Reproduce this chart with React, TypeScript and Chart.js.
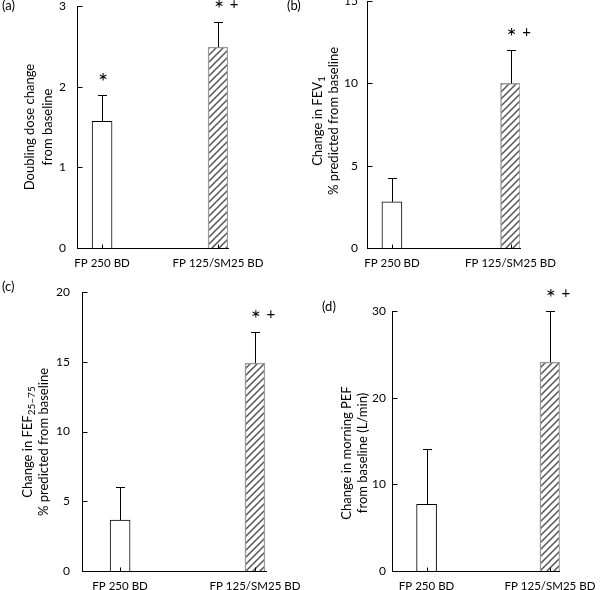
import { useEffect, useRef } from "react";
import { Chart, registerables } from "chart.js";

Chart.register(...registerables);

// ---------- data ----------
const GROUPS = ["FP 250 BD", "FP 125/SM25 BD"];

const DOUBLING_DOSE_MEAN = [1.57, 2.49];
const DOUBLING_DOSE_SEM = [0.33, 0.31];
const DOUBLING_DOSE_TICKS = [0, 1, 2, 3];
const DOUBLING_DOSE_MARKS = [["*"], ["*", "+"]];

const FEV1_MEAN = [2.8, 10.0];
const FEV1_SEM = [1.45, 2.0];
const FEV1_TICKS = [0, 5, 10, 15];
const FEV1_MARKS = [[], ["*", "+"]];

const FEF_MEAN = [3.65, 14.9];
const FEF_SEM = [2.4, 2.25];
const FEF_TICKS = [0, 5, 10, 15, 20];
const FEF_MARKS = [[], ["*", "+"]];

const PEF_MEAN = [7.7, 24.1];
const PEF_SEM = [6.35, 5.9];
const PEF_TICKS = [0, 10, 20, 30];
const PEF_MARKS = [[], ["*", "+"]];

type Seg = { t: string; sub?: boolean };
const TITLE_A: Seg[][] = [[{ t: "Doubling dose change" }], [{ t: "from baseline" }]];
const TITLE_B: Seg[][] = [
  [{ t: "Change in FEV" }, { t: "1", sub: true }],
  [{ t: "% predicted from baseline" }],
];
const TITLE_C: Seg[][] = [
  [{ t: "Change in FEF" }, { t: "25–75", sub: true }],
  [{ t: "% predicted from baseline" }],
];
const TITLE_D: Seg[][] = [[{ t: "Change in morning PEF" }], [{ t: "from baseline (L/min)" }]];

// ---------- layout ----------
const W = 606;
const H = 590;
const OFF = 30;
const CH = H + 50;
const YW = 50;
const XH = 30;
const FONT = "Lato, 'Open Sans', sans-serif";
const FS = 13;
const TICK_FS = 12;
const XLAB_FS = 11.5;

type PanelCfg = {
  tag: string;
  means: number[];
  sems: number[];
  ticks: number[];
  marks: string[][];
  title: Seg[][];
  left: number;
  top: number;
  bottom: number;
  right: number;
  xpos: number[];
  tickPad: number;
  titleX: [number, number];
  titleY: number;
  tagX: number;
  tagY: number;
};

const PANELS: PanelCfg[] = [
  {
    tag: "(a)", means: DOUBLING_DOSE_MEAN, sems: DOUBLING_DOSE_SEM, ticks: DOUBLING_DOSE_TICKS,
    marks: DOUBLING_DOSE_MARKS, title: TITLE_A,
    left: 77, top: 6, bottom: 248, right: 228, xpos: [1.66, 9.34], tickPad: 11,
    titleX: [30, 48], titleY: 127, tagX: 2, tagY: 6,
  },
  {
    tag: "(b)", means: FEV1_MEAN, sems: FEV1_SEM, ticks: FEV1_TICKS,
    marks: FEV1_MARKS, title: TITLE_B,
    left: 367, top: 1, bottom: 248, right: 520, xpos: [1.63, 9.38], tickPad: 9,
    titleX: [318, 334], titleY: 121, tagX: 287, tagY: 6,
  },
  {
    tag: "(c)", means: FEF_MEAN, sems: FEF_SEM, ticks: FEF_TICKS,
    marks: FEF_MARKS, title: TITLE_C,
    left: 82, top: 292, bottom: 571, right: 266, xpos: [2.07, 9.4], tickPad: 12,
    titleX: [28, 44], titleY: 442, tagX: 2, tagY: 287,
  },
  {
    tag: "(d)", means: PEF_MEAN, sems: PEF_SEM, ticks: PEF_TICKS,
    marks: PEF_MARKS, title: TITLE_D,
    left: 392, top: 311, bottom: 571, right: 562, xpos: [2.06, 9.41], tickPad: 6,
    titleX: [347, 363], titleY: 453, tagX: 322, tagY: 307,
  },
];

function makeHatch(): CanvasPattern | string {
  const c = document.createElement("canvas");
  const s = 7;
  c.width = s;
  c.height = s;
  const g = c.getContext("2d");
  if (!g) return "#888";
  g.fillStyle = "#ffffff";
  g.fillRect(0, 0, s, s);
  g.strokeStyle = "#555555";
  g.lineWidth = 1.5;
  g.beginPath();
  g.moveTo(-1, s + 1);
  g.lineTo(s + 1, -1);
  g.moveTo(-1, 1);
  g.lineTo(1, -1);
  g.moveTo(s - 1, s + 1);
  g.lineTo(s + 1, s - 1);
  g.stroke();
  const p = g.createPattern(c, "repeat");
  return p || "#888";
}

function drawRich(ctx: CanvasRenderingContext2D, segs: Seg[], x: number, y: number) {
  const main = `${FS}px ${FONT}`;
  const sub = `10px ${FONT}`;
  ctx.save();
  ctx.translate(x, y);
  ctx.rotate(-Math.PI / 2);
  ctx.textBaseline = "middle";
  ctx.textAlign = "left";
  let total = 0;
  const widths = segs.map((s) => {
    ctx.font = s.sub ? sub : main;
    const w = ctx.measureText(s.t).width;
    total += w;
    return w;
  });
  let cx = -total / 2;
  segs.forEach((s, i) => {
    ctx.font = s.sub ? sub : main;
    ctx.fillText(s.t, cx, s.sub ? 4 : 0);
    cx += widths[i];
  });
  ctx.restore();
}

function drawCentered(ctx: CanvasRenderingContext2D, text: string, x: number, y: number, font: string) {
  ctx.font = font;
  ctx.textAlign = "center";
  ctx.textBaseline = "alphabetic";
  const m = ctx.measureText(text);
  const base = y - (m.actualBoundingBoxDescent - m.actualBoundingBoxAscent) / 2;
  ctx.fillText(text, x, base);
}

function Panel({ cfg }: { cfg: PanelCfg }) {
  const ref = useRef<HTMLCanvasElement | null>(null);

  useEffect(() => {
    const canvas = ref.current;
    if (!canvas) return;
    const hatch = makeHatch();

    const overlay = {
      id: "overlay" + cfg.tag,
      afterDatasetsDraw(chart: any) {
        const ctx: CanvasRenderingContext2D = chart.ctx;
        const xs = chart.scales.x;
        const ys = chart.scales.y;
        const area = chart.chartArea;
        ctx.save();
        ctx.strokeStyle = "#000";
        ctx.lineWidth = 1;
        // inward y ticks
        ctx.beginPath();
        const ax = Math.round(area.left) + 0.5;
        cfg.ticks.forEach((t) => {
          const py = Math.round(ys.getPixelForValue(t)) + 0.5;
          ctx.moveTo(ax, py);
          ctx.lineTo(ax + 5, py);
        });
        // inward x ticks at the bars
        const by = Math.round(area.bottom) + 0.5;
        cfg.xpos.forEach((xp) => {
          const px = Math.round(xs.getPixelForValue(xp)) + 0.5;
          ctx.moveTo(px, by);
          ctx.lineTo(px, by - 4);
        });
        ctx.stroke();
        // error bars
        ctx.beginPath();
        cfg.means.forEach((m, i) => {
          const px = Math.round(xs.getPixelForValue(cfg.xpos[i])) + 0.5;
          const y0 = ys.getPixelForValue(m);
          const y1 = Math.round(ys.getPixelForValue(m + cfg.sems[i])) + 0.5;
          ctx.moveTo(px, y0);
          ctx.lineTo(px, y1);
          ctx.moveTo(px - 4.5, y1);
          ctx.lineTo(px + 4.5, y1);
        });
        ctx.stroke();
        // significance marks
        ctx.fillStyle = "#000";
        cfg.marks.forEach((mk, i) => {
          const px = xs.getPixelForValue(cfg.xpos[i]);
          const py = ys.getPixelForValue(cfg.means[i] + cfg.sems[i]) - 18;
          mk.forEach((s, j) => {
            drawCentered(ctx, s, px + 1 + j * 15, py, s === "*" ? `24px ${FONT}` : `15px ${FONT}`);
          });
        });
        // y-axis title
        cfg.title.forEach((line, i) => {
          drawRich(ctx, line, cfg.titleX[i], cfg.titleY + OFF);
        });
        // panel tag
        ctx.font = `${FS}px ${FONT}`;
        ctx.textAlign = "left";
        ctx.textBaseline = "middle";
        ctx.fillText(cfg.tag, cfg.tagX, cfg.tagY + OFF);
        ctx.restore();
      },
    };

    const chart = new Chart(canvas, {
      type: "bar",
      data: {
        datasets: [
          {
            data: cfg.means.map((m, i) => ({ x: cfg.xpos[i], y: m })),
            backgroundColor: ["#ffffff", hatch as any],
            borderColor: ["#000000", "#9a9a9a"],
            borderWidth: [1, 1.5],
            barThickness: 20,
          },
        ],
      },
      options: {
        animation: false,
        responsive: false,
        devicePixelRatio: 1,
        events: [],
        layout: {
          padding: {
            left: cfg.left - YW,
            top: cfg.top + OFF,
            right: W - cfg.right,
            bottom: CH - (cfg.bottom + OFF) - XH,
          },
        },
        plugins: {
          legend: { display: false },
          tooltip: { enabled: false },
          title: { display: false },
        },
        scales: {
          x: {
            type: "linear",
            min: 0,
            max: 10,
            offset: false,
            grid: { display: false, drawTicks: false },
            border: { display: true, color: "#000", width: 1 },
            afterBuildTicks: (scale: any) => {
              scale.ticks = cfg.xpos.map((v) => ({ value: v }));
            },
            afterFit: (scale: any) => {
              scale.height = XH;
            },
            ticks: {
              autoSkip: false,
              maxRotation: 0,
              padding: 8,
              color: "#000",
              font: { family: FONT, size: XLAB_FS },
              callback: (_v: any, i: number) => GROUPS[i],
            },
          },
          y: {
            type: "linear",
            min: cfg.ticks[0],
            max: cfg.ticks[cfg.ticks.length - 1],
            grid: { display: false, drawTicks: false },
            border: { display: true, color: "#000", width: 1 },
            afterBuildTicks: (scale: any) => {
              scale.ticks = cfg.ticks.map((v) => ({ value: v }));
            },
            afterFit: (scale: any) => {
              scale.width = YW;
            },
            ticks: {
              padding: cfg.tickPad,
              color: "#000",
              font: { family: FONT, size: TICK_FS },
              callback: (v: any) => String(v),
            },
          },
        },
      },
      plugins: [overlay],
    } as any);

    return () => chart.destroy();
  }, [cfg]);

  return (
    <canvas
      ref={ref}
      width={W}
      height={CH}
      style={{ position: "absolute", left: 0, top: -OFF, width: W, height: CH }}
    />
  );
}

export default function App() {
  return (
    <div
      style={{
        position: "absolute",
        left: 0,
        top: 0,
        width: W,
        height: H,
        overflow: "hidden",
        background: "#ffffff",
      }}
    >
      {PANELS.map((p) => (
        <Panel key={p.tag} cfg={p} />
      ))}
    </div>
  );
}
